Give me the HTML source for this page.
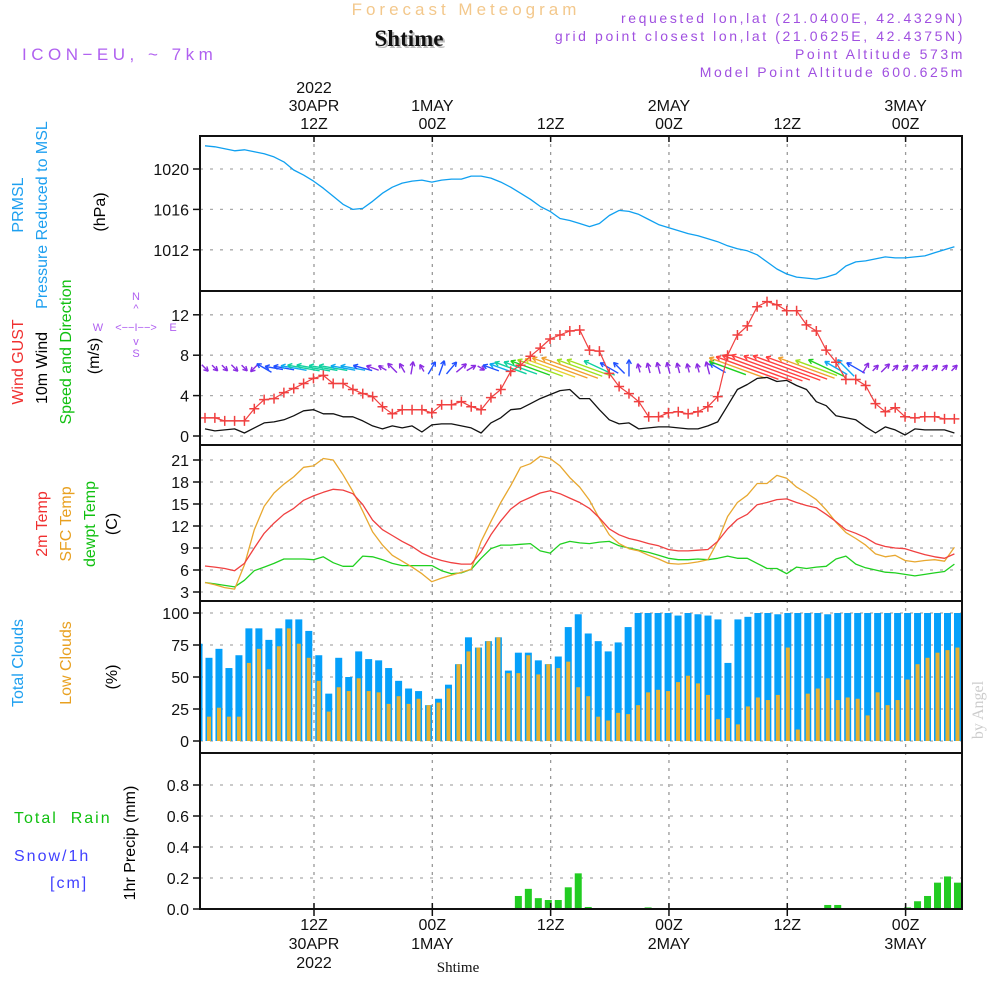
<!DOCTYPE html>
<html><head><meta charset="utf-8"><title>Forecast Meteogram</title>
<style>
html,body{margin:0;padding:0;background:#fff;}
svg{display:block;font-family:"Liberation Sans",sans-serif;}
</style></head><body>
<svg id="chart" width="1000" height="1000" viewBox="0 0 1000 1000" xmlns="http://www.w3.org/2000/svg">
<defs><clipPath id="plotclip"><rect x="200" y="136" width="762" height="773"/></clipPath></defs>
<g id="header">
<text x="466" y="15" text-anchor="middle" font-size="17" fill="#f3c88c" letter-spacing="4">Forecast Meteogram</text>
<text x="411" y="48" text-anchor="middle" font-size="23" font-weight="bold" font-family="Liberation Serif,serif" fill="#bbb">Shtime</text>
<text x="409" y="46" text-anchor="middle" font-size="23" font-weight="bold" font-family="Liberation Serif,serif" fill="#111">Shtime</text>
<text x="22" y="60" font-size="17" fill="#b060f0" letter-spacing="4.5">ICON−EU, ~ 7km</text>
<g font-size="14" fill="#a050e0" text-anchor="end" letter-spacing="2.6">
<text x="965" y="23">requested lon,lat (21.0400E, 42.4329N)</text>
<text x="965" y="41">grid point closest lon,lat (21.0625E, 42.4375N)</text>
<text x="965" y="59">Point Altitude 573m</text>
<text x="965" y="77">Model Point Altitude 600.625m</text>
</g>
</g>
<g id="leftlabels" font-size="16">
<text transform="translate(23,205) rotate(-90)" text-anchor="middle" fill="#1ea0f0">PRMSL</text>
<text transform="translate(47,215) rotate(-90)" text-anchor="middle" fill="#1ea0f0">Pressure Reduced to MSL</text>
<text transform="translate(105,212) rotate(-90)" text-anchor="middle" fill="#000">(hPa)</text>
<text transform="translate(23,362) rotate(-90)" text-anchor="middle" fill="#f03030">Wind GUST</text>
<text transform="translate(47,368) rotate(-90)" text-anchor="middle" fill="#000">10m Wind</text>
<text transform="translate(71,352) rotate(-90)" text-anchor="middle" fill="#10c010">Speed and Direction</text>
<text transform="translate(99,356) rotate(-90)" text-anchor="middle" fill="#000">(m/s)</text>
<g fill="#b060f0" font-size="11" text-anchor="middle">
<text x="136" y="300">N</text><text x="136" y="312">^</text><text x="136" y="331">&lt;−−I−−&gt;</text>
<text x="98" y="331">W</text><text x="173" y="331">E</text><text x="136" y="345">v</text><text x="136" y="357">S</text>
</g>
<text transform="translate(47,524) rotate(-90)" text-anchor="middle" fill="#f03030">2m Temp</text>
<text transform="translate(71,524) rotate(-90)" text-anchor="middle" fill="#e8a020">SFC Temp</text>
<text transform="translate(95,524) rotate(-90)" text-anchor="middle" fill="#10c010">dewpt Temp</text>
<text transform="translate(117,524) rotate(-90)" text-anchor="middle" fill="#000">(C)</text>
<text transform="translate(23,663) rotate(-90)" text-anchor="middle" fill="#1ea0f0">Total Clouds</text>
<text transform="translate(71,663) rotate(-90)" text-anchor="middle" fill="#e8a020">Low Clouds</text>
<text transform="translate(117,677) rotate(-90)" text-anchor="middle" fill="#000">(%)</text>
<text x="14" y="823" fill="#10c010" letter-spacing="2" xml:space="preserve">Total  Rain</text>
<text x="14" y="861" fill="#4040ff" letter-spacing="2">Snow/1h</text>
<text x="50" y="888" fill="#4040ff" letter-spacing="2">[cm]</text>
<text transform="translate(135,843) rotate(-90)" text-anchor="middle" fill="#000">1hr Precip (mm)</text>
<text transform="translate(983,710) rotate(-90)" text-anchor="middle" fill="#ccc" font-family="Liberation Serif,serif">by Angel</text>
</g>
<g id="grid"></g>
<g id="marks" clip-path="url(#plotclip)"></g>
<g id="frames"></g>
<g id="axes" font-size="16" fill="#111"></g>
</svg>
<script>
// ---------- data ----------
const pressure=[1022.3,1022.2,1022.0,1021.8,1021.9,1021.7,1021.5,1021.2,1020.7,1019.9,1019.4,1018.8,1018.1,1017.3,1016.5,1016.0,1016.1,1016.8,1017.6,1018.2,1018.6,1018.8,1018.9,1018.7,1018.9,1019.0,1019.0,1019.3,1019.3,1019.1,1018.7,1018.2,1017.6,1017.0,1016.3,1015.8,1015.1,1014.9,1014.6,1014.3,1014.6,1015.4,1015.9,1015.8,1015.5,1015.0,1014.5,1014.2,1013.9,1013.6,1013.4,1013.1,1012.8,1012.4,1012.1,1011.9,1011.5,1010.8,1010.1,1009.6,1009.3,1009.2,1009.1,1009.3,1009.6,1010.4,1010.8,1010.9,1011.1,1011.3,1011.2,1011.2,1011.3,1011.4,1011.7,1012.0,1012.3];
const gust=[1.8,1.8,1.5,1.5,1.5,2.7,3.6,3.7,4.3,4.7,5.2,5.7,6.0,5.2,5.2,4.6,4.2,3.9,2.9,2.2,2.6,2.6,2.6,2.3,3.1,3.1,3.4,2.9,2.6,3.8,4.6,6.4,7.0,7.9,8.7,9.6,10.0,10.4,10.5,8.5,8.4,6.2,4.9,4.2,3.4,1.9,1.9,2.3,2.4,2.2,2.4,2.9,3.9,8.0,10.0,10.9,12.8,13.3,13.0,12.4,12.4,11.0,10.4,8.5,7.3,5.6,5.6,5.0,3.2,2.4,2.8,1.9,1.8,1.9,1.9,1.7,1.7];
const wind10=[0.7,0.5,0.6,0.7,0.3,0.8,1.3,1.4,1.6,2.0,2.5,2.6,2.2,2.2,1.9,1.9,1.5,1.0,0.7,1.0,0.8,1.0,0.4,1.1,1.2,1.2,1.0,0.8,0.3,1.3,1.8,2.6,2.7,3.2,3.7,4.1,4.5,4.6,3.7,3.7,2.6,1.6,1.2,1.3,0.7,0.8,0.9,0.9,0.8,0.7,0.7,1.0,1.4,3.0,4.6,5.1,5.7,5.8,5.4,5.5,5.0,4.6,3.4,3.0,2.0,1.8,1.6,0.9,0.3,0.9,0.6,0.1,0.7,0.6,0.6,0.6,0.3];
const windDir=[135,135,135,135,135,225,300,280,280,280,280,280,280,280,280,280,285,290,300,315,330,10,330,30,20,40,50,60,120,290,290,290,290,290,290,290,290,290,290,290,295,300,315,0,345,345,345,345,345,345,345,345,300,290,290,290,290,290,290,290,290,290,290,295,300,315,300,30,45,45,45,45,45,45,45,45,45];
const temp2m=[6.55,6.4,6.2,5.9,6.9,9.0,11.0,12.4,13.6,14.4,15.5,16.1,16.6,17.0,16.9,16.4,14.9,12.8,11.5,10.7,9.9,9.2,8.3,7.7,7.3,7.0,6.8,6.8,8.5,10.8,12.7,14.3,15.3,15.9,16.5,16.8,16.4,15.8,15.2,14.4,13.1,11.6,10.8,10.3,10.0,9.6,9.3,8.8,8.6,8.6,8.7,8.8,9.9,11.6,12.9,13.6,14.9,15.2,15.6,15.7,15.2,14.8,14.5,13.6,12.6,11.5,11.0,10.4,9.6,9.2,9.0,8.9,8.5,8.1,7.8,7.6,8.2];
const tempSfc=[4.3,4.0,3.6,3.4,6.7,11.5,14.7,16.5,17.7,18.7,20.0,20.2,21.2,21.0,19.0,16.7,14.0,11.2,9.4,8.0,7.2,6.4,5.5,4.4,4.9,5.3,5.7,6.1,9.9,12.6,15.2,17.5,20.0,20.5,21.5,21.2,20.2,18.6,17.3,15.5,13.0,10.8,9.6,8.9,8.6,8.0,7.5,6.9,6.8,6.9,7.1,7.4,9.9,13.3,15.2,16.2,17.8,17.8,18.9,18.5,17.3,16.5,15.6,14.2,12.5,11.1,10.3,9.4,8.2,7.8,8.0,7.3,7.1,7.3,7.4,7.2,9.1];
const dewpt=[4.3,4.1,3.9,3.7,4.6,5.9,6.4,6.9,7.5,7.5,7.5,7.4,7.8,7.0,6.5,6.5,7.9,7.8,7.4,6.9,6.6,6.6,6.6,6.6,5.9,5.5,5.6,6.1,7.6,8.9,9.4,9.4,9.5,9.6,8.6,8.3,9.5,9.9,9.7,9.6,9.8,9.9,9.3,9.0,8.7,8.4,8.0,7.6,7.4,7.4,7.5,7.4,7.6,7.9,7.6,7.6,6.9,6.2,6.2,5.5,6.4,6.2,6.4,6.5,7.5,7.9,6.8,6.3,6.0,5.7,5.6,5.4,5.2,5.4,5.6,5.8,6.8];
const cloudTotal=[76,65,72,57,67,88,88,79,88,95,95,86,67,37,65,50,70,64,63,57,47,41,39,28,33,44,60,81,73,78,81,55,69,69,63,60,66,89,99,84,78,70,77,89,100,100,100,100,98,100,99,98,95,61,95,97,100,100,99,100,100,100,100,99,100,100,100,100,100,100,100,100,100,100,100,100,100];
const cloudLow=[15,19,26,19,19,61,72,56,74,88,76,65,47,23,42,39,49,39,38,29,35,29,33,28,30,41,60,70,73,78,81,53,53,67,52,60,57,62,42,35,19,16,22,21,28,38,40,39,46,51,45,36,17,18,13,27,34,32,36,73,9,37,41,49,32,34,33,20,38,28,32,48,60,65,69,71,73];
const precip=[0,0,0,0,0,0,0,0,0,0,0,0,0,0,0,0,0,0,0,0,0,0,0,0,0,0,0,0,0,0,0,0,0.084,0.13,0.07,0.058,0.058,0.14,0.23,0.013,0,0,0,0,0,0.01,0,0,0,0,0,0,0,0,0,0,0,0,0,0,0,0,0,0.026,0.026,0,0,0,0,0,0,0.01,0.05,0.084,0.17,0.21,0.17];
const pTicks=[1020,1016,1012];
const wTicks=[12,8,4,0];
const tTicks=[21,18,15,12,9,6,3];
const cTicks=[100,75,50,25,0];
const rTicks=[0.8,0.6,0.4,0.2,0.0];
const rTickLabels=["0.8","0.6","0.4","0.2","0.0"];
const timeTicks=[12,24,36,48,60,72];
const topLabels=[["2022","30APR","12Z"],["","1MAY","00Z"],["","","12Z"],["","2MAY","00Z"],["","","12Z"],["","3MAY","00Z"]];
const botLabels=[["12Z","30APR","2022"],["00Z","1MAY",""],["12Z","",""],["00Z","2MAY",""],["12Z","",""],["00Z","3MAY",""]];

// ---------- scales ----------
const lx=i=>205+i*9.86;
const bx=i=>199+i*9.98;
const tx=h=>314+(h-12)*9.86;
const yP=v=>169+(1020-v)*10.1;
const yW=v=>436-v*10.1;
const yT=v=>460+(21-v)*7.333;
const yC=v=>741-v*1.28;
const yR=v=>909-v*155;

const NS="http://www.w3.org/2000/svg";
function mk(parent,tag,attrs){const e=document.createElementNS(NS,tag);for(const k in attrs)e.setAttribute(k,attrs[k]);parent.appendChild(e);return e;}
const grid=document.getElementById('grid'),marks=document.getElementById('marks'),frames=document.getElementById('frames'),axes=document.getElementById('axes');
const panels=[[136,291],[291,445],[445,601],[601,753],[753,909]];

function hgrid(ticks,sc,name){ticks.forEach(v=>{const g=mk(grid,'line',{x1:200,x2:962,y1:sc(v),y2:sc(v),stroke:'#aaa','stroke-width':1.3,'stroke-dasharray':'3,7'});

});}
hgrid(pTicks,yP,'pressure');hgrid(wTicks,yW,'wind');hgrid(tTicks,yT,'temp');hgrid(cTicks,yC,'cloud');hgrid(rTicks,yR,'precip');
timeTicks.forEach(h=>{const g=mk(grid,'line',{x1:tx(h),x2:tx(h),y1:136,y2:909,stroke:'#999','stroke-width':1.3,'stroke-dasharray':'3,5'});

});

function poly(arr,sc,color,name,w){const pts=arr.map((v,i)=>lx(i).toFixed(1)+','+sc(v).toFixed(1)).join(' ');
const p=mk(marks,'polyline',{points:pts,fill:'none',stroke:color,'stroke-width':w||1.3,'stroke-linejoin':'round'});

return p;}
poly(pressure,yP,'#10a0f0','pressure-line');

function spdColor(s){if(s<1.05)return '#8a2be2';if(s<1.7)return '#2050ff';if(s<2.2)return '#10a8f0';if(s<2.8)return '#10d0a0';if(s<3.3)return '#20d020';if(s<3.8)return '#a0e020';if(s<4.3)return '#e8d030';if(s<5.0)return '#f0a030';return '#ff4040';}
wind10.forEach((s,i)=>{const L=Math.max(8,s*13);const a=windDir[i]*Math.PI/180;const dx=Math.sin(a),dy=-Math.cos(a);
const cx=lx(i),cy=368;const hx=cx+dx*L/2,hy=cy+dy*L/2,tx0=cx-dx*L/2,ty0=cy-dy*L/2;
const col=spdColor(s);const g=mk(marks,'g',{stroke:col,'stroke-width':1.4,fill:'none'});


mk(g,'line',{x1:tx0,y1:ty0,x2:hx,y2:hy});
const hl=5;[0.5,-0.5].forEach(o=>{const b=a+Math.PI+o;mk(g,'line',{x1:hx,y1:hy,x2:hx+Math.sin(b)*hl,y2:hy-Math.cos(b)*hl});});});

poly(wind10,yW,'#111','wind10m-line');
poly(gust,yW,'#f04040','gust-line',1.2);
gust.forEach((v,i)=>{const g=mk(marks,'path',{d:`M${lx(i)-5},${yW(v)}h10M${lx(i)},${yW(v)-5}v10`,stroke:'#f04040','stroke-width':1.5});

});

poly(dewpt,yT,'#20d020','dewpt-line');
poly(tempSfc,yT,'#e8a830','sfc-temp-line');
poly(temp2m,yT,'#f04040','temp2m-line');

cloudTotal.forEach((v,i)=>{const r=mk(marks,'rect',{x:bx(i)-3.5,y:yC(v),width:7,height:yC(0)-yC(v),fill:'#05a0fa'});

});
cloudLow.forEach((v,i)=>{const r=mk(marks,'rect',{x:bx(i)-2,y:yC(v),width:4,height:yC(0)-yC(v),fill:'#e8b030'});

});

precip.forEach((v,i)=>{if(v<=0)return;const r=mk(marks,'rect',{x:bx(i)-3.5,y:yR(v),width:7,height:yR(0)-yR(v),fill:'#22cc22'});

});

panels.forEach(p=>{const r=mk(frames,'rect',{x:200,y:p[0],width:762,height:p[1]-p[0],fill:'none',stroke:'#111','stroke-width':2});

});

function yaxis(ticks,sc,labels,name){ticks.forEach((v,k)=>{mk(axes,'line',{x1:193,x2:200,y1:sc(v),y2:sc(v),stroke:'#111','stroke-width':1.5});
const t=mk(axes,'text',{x:189,y:sc(v)+6,'text-anchor':'end'});t.textContent=labels?labels[k]:String(v);

});}
yaxis(pTicks,yP,null,'pressure');yaxis(wTicks,yW,null,'wind');yaxis(tTicks,yT,null,'temp');yaxis(cTicks,yC,null,'cloud');yaxis(rTicks,yR,rTickLabels,'precip');

timeTicks.forEach((h,k)=>{const x=tx(h);
mk(axes,'line',{x1:x,x2:x,y1:136,y2:142,stroke:'#111','stroke-width':1.5});
mk(axes,'line',{x1:x,x2:x,y1:903,y2:916,stroke:'#111','stroke-width':1.5});
topLabels[k].forEach((s,j)=>{if(!s)return;const t=mk(axes,'text',{x:x,y:93+j*18,'text-anchor':'middle'});t.textContent=s;

});
botLabels[k].forEach((s,j)=>{if(!s)return;const t=mk(axes,'text',{x:x,y:930+j*19,'text-anchor':'middle'});t.textContent=s;

});});
const st=mk(axes,'text',{x:458,y:972,'text-anchor':'middle','font-size':15,'font-family':'Liberation Serif,serif'});st.textContent='Shtime';


</script>
</body></html>
